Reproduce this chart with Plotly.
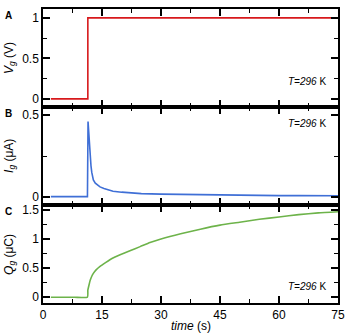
import plotly.graph_objects as go
from plotly.subplots import make_subplots

# ── Data ────────────────────────────────────────────────────────────────────
t_v = [2, 11.4, 11.4, 75]
vg = [0, 0, 1, 1]

t_i = [2, 5, 8, 11.3, 11.45, 11.6, 11.8, 12.0, 12.2, 12.4, 12.8, 13.3, 14.0,
       14.5, 15.5, 16.5, 17.8, 20, 22, 25, 30, 35, 40, 45, 50, 55, 60, 65,
       70, 75]
ig = [0.003, 0.002, 0.003, 0.003, 0.46, 0.40, 0.31, 0.24, 0.19, 0.15, 0.105,
      0.085, 0.07, 0.062, 0.052, 0.044, 0.036, 0.030, 0.026, 0.021, 0.018,
      0.016, 0.014, 0.012, 0.011, 0.010, 0.009, 0.009, 0.008, 0.008]

t_q = [2, 5, 8, 11.3, 11.4, 11.7, 12, 12.4, 12.8, 13.5, 14.5, 16, 17, 18.3,
       19.6, 22.1, 24.7, 27.2, 30, 35, 40, 45, 50, 55, 60, 65, 70, 75]
qg = [0, 0, 0, 0, 0.12, 0.21, 0.29, 0.36, 0.41, 0.47, 0.53, 0.60, 0.645, 0.69,
      0.73, 0.80, 0.87, 0.94, 1.00, 1.09, 1.17, 1.24, 1.29, 1.34, 1.38, 1.42,
      1.45, 1.47]

x_ticks = [0, 15, 30, 45, 60, 75]
panel_labels = ["A", "B", "C"]
y_titles = ["<i>V<sub>g</sub></i> (V)", "<i>I<sub>g</sub></i> (μA)",
            "<i>Q<sub>g</sub></i> (μC)"]
temp_label = "<i>T=296</i> K"

FONT = "Liberation Sans, Arial, sans-serif"

fig = make_subplots(rows=3, cols=1, shared_xaxes=True, vertical_spacing=0)

fig.add_trace(go.Scatter(x=t_v, y=vg, mode="lines",
                         line=dict(color="#d7191c", width=1.6)), row=1, col=1)
fig.add_trace(go.Scatter(x=t_i, y=ig, mode="lines",
                         line=dict(color="#3f6fd6", width=1.6)), row=2, col=1)
fig.add_trace(go.Scatter(x=t_q, y=qg, mode="lines",
                         line=dict(color="#6db34a", width=1.6,
                                   shape="spline", smoothing=0.5)),
              row=3, col=1)

axis_style = dict(
    showline=True, linecolor="black", linewidth=1.5, mirror="ticks",
    ticks="inside", ticklen=7, tickwidth=1.5, tickcolor="black",
    showgrid=False, zeroline=False,
    tickfont=dict(family=FONT, size=12, color="black"),
)
minor_style = dict(ticks="inside", ticklen=4, tickwidth=1.2, tickcolor="black")

for r in (1, 2, 3):
    fig.update_xaxes(range=[0, 75], tickvals=x_ticks,
                     minor=dict(dtick=7.5, **minor_style),
                     showticklabels=(r == 3), row=r, col=1, **axis_style)

fig.update_yaxes(range=[-0.1, 1.11], tickvals=[0, 0.5, 1],
                 ticktext=["0", "0.5", "1"],
                 minor=dict(dtick=0.25, **minor_style),
                 row=1, col=1, **axis_style)
fig.update_yaxes(range=[-0.048, 0.548], tickvals=[0, 0.5],
                 ticktext=["0", "0.5"],
                 minor=dict(dtick=0.25, **minor_style),
                 row=2, col=1, **axis_style)
fig.update_yaxes(range=[-0.1, 1.586], tickvals=[0, 0.5, 1, 1.5],
                 ticktext=["0", "0.5", "1", "1.5"],
                 minor=dict(dtick=0.25, **minor_style),
                 row=3, col=1, **axis_style)

annotations = []
panel_y = [1.0, 2 / 3, 1 / 3]
for lab, ytitle, y0 in zip(panel_labels, y_titles, panel_y):
    annotations.append(dict(
        text=f"<b>{lab}</b>", xref="paper", yref="paper",
        x=-0.135, y=y0 + 0.002, xanchor="left", yanchor="top",
        showarrow=False, font=dict(family=FONT, size=10, color="black")))
    annotations.append(dict(
        text=ytitle, xref="paper", yref="paper",
        x=-0.112, y=y0 - 1 / 6, xanchor="center", yanchor="middle",
        textangle=-90, showarrow=False,
        font=dict(family=FONT, size=12, color="black")))

# temperature labels, one per panel
for yy in (0.755, 0.61, 0.057):
    annotations.append(dict(text=temp_label, xref="paper", yref="paper",
                            x=0.965, y=yy, xanchor="right", yanchor="middle",
                            showarrow=False,
                            font=dict(family=FONT, size=10, color="black")))

annotations.append(dict(text="<i>time</i> (s)", xref="paper", yref="paper",
                        x=0.5, y=-0.047, xanchor="center", yanchor="top",
                        showarrow=False,
                        font=dict(family=FONT, size=12, color="black")))

fig.update_layout(
    width=355, height=335,
    margin=dict(l=43, r=17, t=7, b=32),
    plot_bgcolor="white", paper_bgcolor="white",
    showlegend=False,
    annotations=annotations,
    font=dict(family=FONT, size=12, color="black"),
)

# the page's default body margin would shift the figure by 8 px
fig.write_html("out.html", config={"displayModeBar": False},
               post_script="document.body.style.margin='0';")
